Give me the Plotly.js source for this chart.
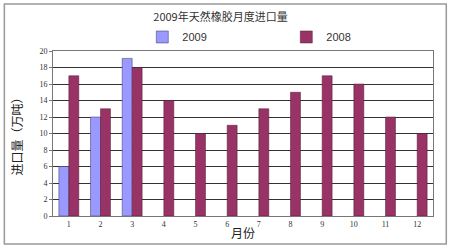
<!DOCTYPE html>
<html><head><meta charset="utf-8">
<script src="https://cdn.plot.ly/plotly-3.0.1.min.js"></script>
<style>html,body{margin:0;padding:0;background:#fff}#c{width:450px;height:250px}</style>
</head><body><div id="c"></div>
<script>
const months = ['1','2','3','4','5','6','7','8','9','10','11','12'];
const v2009 = [6, 12, 19.1, null, null, null, null, null, null, null, null, null];
const v2008 = [17, 13, 18, 14, 10, 11, 13, 15, 17, 16, 12, 10];
const yTicks = [0,2,4,6,8,10,12,14,16,18,20];

const cjk = '"Noto Sans CJK SC", sans-serif';
const traces = [
  {type:'bar', name:'2009', x:months, y:v2009, marker:{color:'#9999FF', line:{color:'#333366', width:0.5}}},
  {type:'bar', name:'2008', x:months, y:v2008, marker:{color:'#993366', line:{color:'#4d1a33', width:0.5}}}
];
const layout = {
  width:450, height:250,
  margin:{l:53, r:17, t:51, b:34},
  paper_bgcolor:'#fff', plot_bgcolor:'#fff',
  barmode:'group', bargap:0.37, bargroupgap:0,
  showlegend:true,
  legend:{orientation:'h', x:0.235, xanchor:'left', y:1.085, yanchor:'middle',
    font:{family:'"Liberation Sans", sans-serif', size:11, color:'#333'},
    entrywidth:99, entrywidthmode:'pixels', bgcolor:'rgba(0,0,0,0)'},
  title:{text:'2009年天然橡胶月度进口量', font:{family:cjk, size:11, color:'#333'}, x:0.49, xanchor:'center', y:0.932, yanchor:'middle'},
  xaxis:{type:'category', tickfont:{family:'"Liberation Serif", serif', size:8, color:'#333'},
    showline:true, linecolor:'#777', linewidth:1, mirror:true, ticks:'', showgrid:false,
    title:{text:'月份', font:{family:cjk, size:12, color:'#222'}, standoff:2}},
  yaxis:{range:[0,20], tickvals:yTicks, ticktext:yTicks.map(String), tickfont:{family:'"Liberation Serif", serif', size:8, color:'#333'},
    showline:true, linecolor:'#777', linewidth:1, mirror:true, ticks:'outside', ticklen:3, tickcolor:'#777',
    showgrid:true, gridcolor:'#333', gridwidth:1, zeroline:false,
    title:{text:'进口量（万吨）', font:{family:cjk, size:12, color:'#222'}, standoff:14}},
  shapes:[{type:'rect', xref:'paper', yref:'paper', x0:-0.128, x1:1.035, y0:-0.17, y1:1.285, line:{color:'#999', width:1.5}}]
};
Plotly.newPlot('c', traces, layout, {displayModeBar:false, staticPlot:true});
</script>
</body></html>
